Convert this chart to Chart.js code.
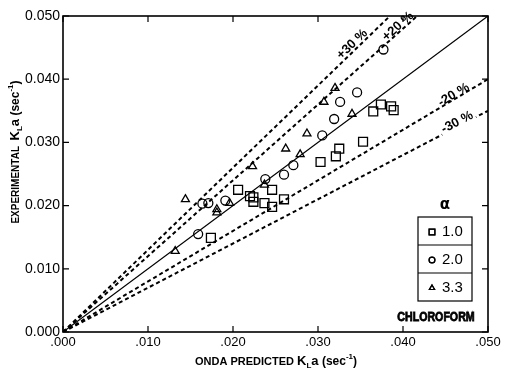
<!DOCTYPE html>
<html>
<head>
<meta charset="utf-8">
<script src="https://cdn.jsdelivr.net/npm/chart.js@4.4.0/dist/chart.umd.min.js"></script>
<style>
  html, body { margin: 0; padding: 0; background: #fff; }
  #wrap { width: 505px; height: 369px; }
</style>
</head>
<body>
<div id="wrap"><canvas id="klaChart"></canvas></div>
<script>
// Values, both axes in sec^-1
const alpha10X = [0.0174, 0.0206, 0.0220, 0.0224, 0.0224, 0.0237, 0.0246, 0.0246, 0.0260, 0.0303, 0.0321, 0.0325, 0.0353, 0.0365, 0.0374, 0.0386, 0.0389];
const alpha10Y = [0.0149, 0.0225, 0.0215, 0.0213, 0.0206, 0.0204, 0.0225, 0.0198, 0.0210, 0.0269, 0.0278, 0.0290, 0.0301, 0.0349, 0.0360, 0.0357, 0.0351];

const alpha20X = [0.0159, 0.0164, 0.0171, 0.0191, 0.0238, 0.0260, 0.0271, 0.0305, 0.0319, 0.0326, 0.0346, 0.0377];
const alpha20Y = [0.0155, 0.0203, 0.0204, 0.0208, 0.0242, 0.0249, 0.0264, 0.0311, 0.0337, 0.0364, 0.0379, 0.0447];

const alpha33X = [0.0132, 0.0144, 0.0181, 0.0181, 0.0196, 0.0223, 0.0237, 0.0262, 0.0279, 0.0287, 0.0307, 0.0320, 0.0340];
const alpha33Y = [0.0128, 0.0210, 0.0194, 0.0189, 0.0204, 0.0262, 0.0233, 0.0290, 0.0281, 0.0314, 0.0364, 0.0386, 0.0345];

const axisTicks = [0, 0.01, 0.02, 0.03, 0.04, 0.05];
const axisMax = 0.05;
const devFactors = [1.3, 1.2, 0.8, 0.7];
const devLabels = ["+30 %", "+20 %", "-20 %", "-30 %"];
const legendLabels = ["1.0", "2.0", "3.3"];

const FONT = "'Liberation Sans', Arial, sans-serif";

function toPoints(xs, ys) {
  return xs.map(function (x, i) {
    return { x: x, y: ys[i] };
  });
}

function lineTo(f) {
  const xEnd = Math.min(axisMax, axisMax / f);
  return [{ x: 0, y: 0 }, { x: xEnd, y: xEnd * f }];
}

const markerStyles = [
  { pointStyle: "rect", pointRadius: 6.3 },
  { pointStyle: "circle", pointRadius: 4.5 },
  { pointStyle: "triangle", pointRadius: 4.6 },
];

const datasets = [];

// parity line
datasets.push({
  type: "line",
  data: lineTo(1),
  borderColor: "#000",
  borderWidth: 1.2,
  pointRadius: 0,
  fill: false,
});

// +/- deviation lines
devFactors.forEach(function (f) {
  datasets.push({
    type: "line",
    data: lineTo(f),
    borderColor: "#000",
    borderWidth: 2,
    borderDash: [4, 3],
    pointRadius: 0,
    fill: false,
  });
});

[[alpha10X, alpha10Y], [alpha20X, alpha20Y], [alpha33X, alpha33Y]].forEach(function (s, i) {
  datasets.push({
    type: "scatter",
    label: legendLabels[i],
    data: toPoints(s[0], s[1]),
    pointStyle: markerStyles[i].pointStyle,
    pointRadius: markerStyles[i].pointRadius,
    borderColor: "#000",
    borderWidth: 1.3,
    backgroundColor: "rgba(0,0,0,0)",
  });
});

// draws a row of text pieces (for sub/superscripts), centred on 0
function drawRuns(ctx, runs) {
  let total = 0;
  runs.forEach(function (r) {
    ctx.font = r.font;
    total += ctx.measureText(r.text).width;
  });
  let x = -total / 2;
  runs.forEach(function (r) {
    ctx.font = r.font;
    ctx.fillText(r.text, x, r.dy || 0);
    x += ctx.measureText(r.text).width;
  });
}

// Frame with inward ticks on all four sides
const framePlugin = {
  id: "frame",
  afterDraw: function (chart) {
    const ctx = chart.ctx;
    const a = chart.chartArea;
    const xs = chart.scales.x;
    const ys = chart.scales.y;
    ctx.save();
    ctx.strokeStyle = "#000";
    ctx.lineWidth = 1.6;
    ctx.strokeRect(a.left, a.top, a.right - a.left, a.bottom - a.top);
    ctx.lineWidth = 1.2;
    ctx.beginPath();
    axisTicks.forEach(function (v) {
      const px = xs.getPixelForValue(v);
      const py = ys.getPixelForValue(v);
      ctx.moveTo(px, a.bottom);
      ctx.lineTo(px, a.bottom - 6);
      ctx.moveTo(px, a.top);
      ctx.lineTo(px, a.top + 6);
      ctx.moveTo(a.left, py);
      ctx.lineTo(a.left + 6, py);
      ctx.moveTo(a.right, py);
      ctx.lineTo(a.right - 6, py);
    });
    ctx.stroke();
    ctx.restore();
  },
};

// Labels on the deviation lines (drawn under the markers)
const devLabelPlugin = {
  id: "devLabels",
  afterDatasetDraw: function (chart, args, opts) {
    // run once, right after the last line dataset
    if (args.index !== devFactors.length) return;
    const ctx = chart.ctx;
    const xs = chart.scales.x;
    const ys = chart.scales.y;
    ctx.save();
    devFactors.forEach(function (f, i) {
      const xv = opts.at[i];
      const px = xs.getPixelForValue(xv);
      const py = ys.getPixelForValue(xv * f);
      const ang = Math.atan2(
        ys.getPixelForValue(f * 0.01) - ys.getPixelForValue(0),
        xs.getPixelForValue(0.01) - xs.getPixelForValue(0)
      );
      ctx.save();
      ctx.translate(px, py);
      ctx.rotate(ang);
      ctx.font = "bold 13px " + FONT;
      const w = ctx.measureText(devLabels[i]).width;
      ctx.fillStyle = "#fff";
      ctx.fillRect(-w / 2 - 2, -10 + opts.dy[i], w + 4, 12);
      ctx.fillStyle = "#000";
      ctx.textAlign = "center";
      ctx.textBaseline = "middle";
      ctx.fillText(devLabels[i], 0, -4 + opts.dy[i]);
      ctx.restore();
    });
    ctx.restore();
  },
};

// Boxed alpha legend, CHLOROFORM tag and axis titles
const annotPlugin = {
  id: "annot",
  afterDraw: function (chart) {
    const ctx = chart.ctx;
    ctx.save();
    ctx.fillStyle = "#000";
    ctx.strokeStyle = "#000";

    // legend box
    const L = 418, R = 472, rowH = 28, top = 217;
    ctx.lineWidth = 1.2;
    ctx.strokeRect(L, top, R - L, rowH * 3);
    ctx.beginPath();
    ctx.moveTo(L, top + rowH); ctx.lineTo(R, top + rowH);
    ctx.moveTo(L, top + 2 * rowH); ctx.lineTo(R, top + 2 * rowH);
    ctx.stroke();
    ctx.textAlign = "center";
    ctx.textBaseline = "middle";
    ctx.font = "bold 15px 'DejaVu Sans', sans-serif";
    ctx.fillText("\u03b1", (L + R) / 2, top - 12);
    ctx.textAlign = "left";
    ctx.font = "15px " + FONT;
    legendLabels.forEach(function (lab, i) {
      const cy = top + rowH * i + rowH / 2 + 1;
      ctx.fillStyle = "#fff";
      Chart.helpers.drawPoint(ctx, {
        pointStyle: markerStyles[i].pointStyle,
        radius: markerStyles[i].pointRadius * 0.65,
        borderWidth: 1.2,
      }, L + 14, cy);
      ctx.stroke();
      ctx.fillStyle = "#000";
      ctx.fillText(lab, L + 24, cy);
    });

    // CHLOROFORM tag, heavy condensed
    ctx.save();
    ctx.translate(436, 318);
    ctx.scale(0.85, 1);
    ctx.font = "bold 12.5px " + FONT;
    ctx.textAlign = "center";
    ctx.lineWidth = 0.8;
    ctx.fillText("CHLOROFORM", 0, 0);
    ctx.strokeText("CHLOROFORM", 0, 0);
    ctx.restore();

    // x title
    ctx.textAlign = "left";
    ctx.textBaseline = "alphabetic";
    ctx.save();
    ctx.translate(276, 365);
    drawRuns(ctx, [
      { text: "ONDA PREDICTED ", font: "bold 11px " + FONT },
      { text: "K", font: "bold 13px " + FONT },
      { text: "L", font: "bold 8px " + FONT, dy: 3 },
      { text: "a", font: "bold 13px " + FONT },
      { text: " (sec", font: "bold 12px " + FONT },
      { text: "-1", font: "bold 8px " + FONT, dy: -6 },
      { text: ")", font: "bold 12px " + FONT },
    ]);
    ctx.restore();

    // y title
    ctx.save();
    ctx.translate(19, 152);
    ctx.rotate(-Math.PI / 2);
    drawRuns(ctx, [
      { text: "EXPERIMENTAL  ", font: "bold 10px " + FONT },
      { text: "K", font: "bold 13px " + FONT },
      { text: "L", font: "bold 8px " + FONT, dy: 3 },
      { text: "a", font: "bold 13px " + FONT },
      { text: " (sec", font: "bold 12px " + FONT },
      { text: "-1", font: "bold 8px " + FONT, dy: -6 },
      { text: ")", font: "bold 12px " + FONT },
    ]);
    ctx.restore();

    ctx.restore();
  },
};

Chart.defaults.font.family = FONT;
Chart.defaults.color = "#000";

const klaChart = new Chart(document.getElementById("klaChart"), {
  type: "scatter",
  data: { datasets: datasets },
  options: {
    responsive: true,
    maintainAspectRatio: false,
    animation: false,
    layout: {
      padding: { top: 16, right: 17, left: 0, bottom: 0 },
    },
    plugins: {
      legend: { display: false },
      tooltip: { enabled: false },
      devLabels: {
        at: [0.0345, 0.0398, 0.0462, 0.0466],
        dy: [-2, -1, 0, 0],
      },
    },
    scales: {
      x: {
        type: "linear",
        min: 0,
        max: axisMax,
        afterFit: function (s) { s.height = 37; },
        afterBuildTicks: function (s) {
          s.ticks = axisTicks.map(function (v) { return { value: v }; });
        },
        grid: { display: false, drawTicks: false },
        border: { display: false },
        ticks: {
          padding: 3,
          maxRotation: 0,
          font: { size: 13 },
          callback: function (v) { return v.toFixed(3).replace(/^0/, ""); },
        },
      },
      y: {
        type: "linear",
        min: 0,
        max: axisMax,
        afterFit: function (s) { s.width = 63; },
        afterBuildTicks: function (s) {
          s.ticks = axisTicks.map(function (v) { return { value: v }; });
        },
        grid: { display: false, drawTicks: false },
        border: { display: false },
        ticks: {
          padding: 3,
          font: { size: 14 },
          callback: function (v) { return v.toFixed(3); },
        },
      },
    },
  },
  plugins: [framePlugin, devLabelPlugin, annotPlugin],
});
</script>
</body>
</html>
